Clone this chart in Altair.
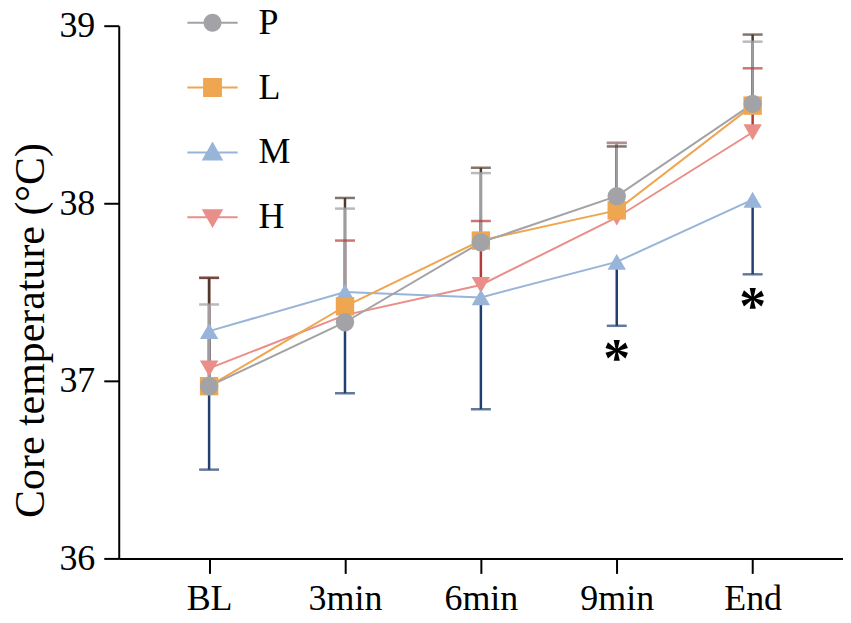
import altair as alt
import pandas as pd

# time points and groups
labels = ["BL", "3min", "6min", "9min", "End"]
series = ["P", "L", "M", "H"]

# group means (core temperature, °C)
p_mean = [36.97, 37.33, 37.78, 38.04, 38.56]
l_mean = [36.97, 37.42, 37.79, 37.96, 38.55]
m_mean = [37.28, 37.50, 37.47, 37.67, 38.02]
h_mean = [37.07, 37.37, 37.54, 37.92, 38.40]

# end of each one-sided error bar (P, L, H upward; M downward)
p_err = [37.43, 37.97, 38.17, 38.34, 38.91]
l_err = [37.58, 38.03, 38.20, 38.32, 38.95]
m_err = [36.50, 36.93, 36.84, 37.31, 37.60]
h_err = [37.58, 37.79, 37.90, 38.34, 38.76]

# significance marks for M
star_times = ["9min", "End"]

line_colors = {"P": "#a3a3a7", "L": "#eea650", "M": "#98b4d9", "H": "#e98e88"}
bar_colors = {"P": "#9d9da1", "L": "#4b3a2e", "M": "#22406f", "H": "#b53a3a"}
shapes = {"P": "circle", "L": "square", "M": "triangle-up", "H": "triangle-down"}

# legend symbols: marker with a line through it
bar_path = "M-2.8,-0.11H2.8V0.11H-2.8Z"
legend_paths = [
    bar_path + "M1,0A1,1,0,1,1,-1,0A1,1,0,1,1,1,0Z",
    bar_path + "M-1.05,-1.05H1.05V1.05H-1.05Z",
    bar_path + "M0,-1.2L1.2,0.9H-1.2Z",
    bar_path + "M0,1.2L-1.2,-0.9H1.2Z",
]

means = {"P": p_mean, "L": l_mean, "M": m_mean, "H": h_mean}
errs = {"P": p_err, "L": l_err, "M": m_err, "H": h_err}

rows = []
for s in ["H", "M", "L", "P"]:
    for i, t in enumerate(labels):
        rows.append({
            "series": s, "time": t, "mean": means[s][i], "err": errs[s][i],
            "line": line_colors[s], "bar": bar_colors[s], "shape": shapes[s],
        })
df = pd.DataFrame(rows)

stars = pd.DataFrame({
    "time": star_times,
    "y": [m_err[labels.index(t)] for t in star_times],
    "label": ["*"] * len(star_times),
})

FONT = "Liberation Serif"

x_enc = alt.X("time:O", sort=labels, title=None,
              scale=alt.Scale(type="point", padding=0.665),
              axis=alt.Axis(labelAngle=0, labelPadding=8))
y_scale = alt.Scale(domain=[36, 39], nice=False, zero=False)
y_enc = alt.Y("mean:Q", scale=y_scale,
              axis=alt.Axis(values=[36, 37, 38, 39], format="d",
                            title="Core temperature (°C)",
                            titlePadding=6, titleY=305, labelPadding=9))

base = alt.Chart(df)

err_rules = base.mark_rule(strokeWidth=2.5).encode(
    x=x_enc, y=y_enc, y2="err:Q",
    color=alt.Color("bar:N", scale=None),
)
err_caps = base.mark_tick(orient="horizontal", size=20, thickness=2.5).encode(
    x=x_enc, y=alt.Y("err:Q", scale=y_scale),
    color=alt.Color("bar:N", scale=None),
)
lines = base.mark_line(strokeWidth=2).encode(
    x=x_enc, y=y_enc, detail="series:N",
    color=alt.Color("line:N", scale=None),
)
points = base.mark_point(filled=True, size=340, opacity=1).encode(
    x=x_enc, y=y_enc,
    color=alt.Color("line:N", scale=None),
    shape=alt.Shape("shape:N", scale=None),
)
legend_layer = base.mark_point(filled=True, opacity=0).encode(
    x=x_enc, y=y_enc,
    color=alt.Color("series:N", title=None,
                    scale=alt.Scale(domain=series, range=[line_colors[s] for s in series])),
    shape=alt.Shape("series:N", title=None,
                    scale=alt.Scale(domain=series, range=legend_paths)),
)
star_text = alt.Chart(stars).mark_text(
    font=FONT, fontSize=54, fontWeight="bold", color="black", baseline="alphabetic", dy=50
).encode(
    x=x_enc, y=alt.Y("y:Q", scale=y_scale), text="label:N",
)

chart = alt.layer(err_rules, err_caps, lines, points, legend_layer, star_text).properties(
    width=726, height=534,
    autosize=alt.AutoSizeParams(type="none"),
    padding={"left": 111, "top": 17, "right": 0, "bottom": 62},
).configure_view(
    stroke=None
).configure_axis(
    grid=False, domainColor="black", domainWidth=2, tickColor="black", tickWidth=2,
    tickSize=15, labelFont=FONT, labelFontSize=36, labelColor="black",
    titleFont=FONT, titleFontSize=42, titleFontWeight="normal", titleColor="black",
).configure_legend(
    orient="none", legendX=76, legendY=-21, padding=0,
    labelFont=FONT, labelFontSize=36, labelColor="black",
    symbolSize=324, symbolStrokeWidth=0, symbolOpacity=1,
    labelOffset=28, rowPadding=29,
)

chart.save("out.html", embed_options={"renderer": "svg", "actions": False})
